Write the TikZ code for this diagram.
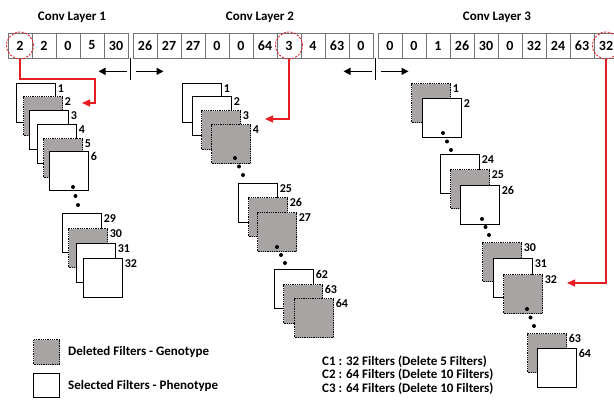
\documentclass[tikz,border=0pt]{standalone}
\usepackage{fontspec}
\setmainfont{Carlito}
\usetikzlibrary{arrows.meta,calc}
\definecolor{delgray}{RGB}{168,164,164}
\definecolor{pickred}{RGB}{232,30,36}
\newcommand{\FiltSize}{39pt}
\newcommand{\CellW}{24}
\tikzset{
  cell/.style={draw=black!55,line width=0.7pt,minimum width=\CellW pt,minimum height=25pt,
    inner sep=0pt,font=\bfseries\fontsize{14}{16}\selectfont},
  pickring/.style={circle,draw=pickred,line width=0.9pt,dash pattern=on 2pt off 1.5pt,
    minimum size=27pt,inner sep=0pt},
  selfilt/.style={draw=black,line width=1.2pt,fill=white,minimum size=\FiltSize,
    inner sep=0pt,anchor=north west},
  delfilt/.style={selfilt,fill=delgray,line width=1.1pt,dash pattern=on 1pt off 0.8pt},
  flab/.style={anchor=north west,inner sep=1.5pt,font=\bfseries\fontsize{12}{14}\selectfont},
  layertitle/.style={font=\bfseries\fontsize{13}{15}\selectfont},
  legtext/.style={anchor=west,inner sep=0pt,font=\bfseries\fontsize{13}{15}\selectfont},
  pickarrow/.style={draw=pickred,line width=1.3pt,-{Triangle[length=8pt,width=7pt]}},
  movearrow/.style={line width=1.3pt,-{Triangle[length=7pt,width=7pt]}},
  divider/.style={line width=1.1pt}
}
\newcommand{\DrawFilter}[5]{%
  \node[#5] (#1) at (#2,#3) {};
  \node[flab] (#1-lab) at (#1.north east) {#4};
}
\newcommand{\DrawDots}[4]{%
  \foreach \k in {0,1,2} {
    \fill (#1+\k*#3,#2+\k*#4) circle (2pt);
  }
}

\begin{document}
\begin{tikzpicture}[x=1pt,y=-1pt]
  \fill[white] (0,0) rectangle (614,403);
  \useasboundingbox (0,0) rectangle (614,403);

  \node[layertitle] (titlea) at (72,17) {Conv Layer 1};
  \node[layertitle] (titleb) at (260,17) {Conv Layer 2};
  \node[layertitle] (titlec) at (497,17) {Conv Layer 3};

  % genotype strip
  \foreach \v [count=\i] in {2,2,0,5,30}
    \node[cell] (ca-\i) at (8+\CellW*\i-\CellW/2,45.5) {\v};
  \foreach \v [count=\i] in {26,27,27,0,0,64,3,4,63,0}
    \node[cell] (cb-\i) at (133+\CellW*\i-\CellW/2,45.5) {\v};
  \foreach \v [count=\i] in {0,0,1,26,30,0,32,24,63,32}
    \node[cell] (cc-\i) at (378+\CellW*\i-\CellW/2,45.5) {\v};

  \coordinate (gapa) at ($(ca-5.south east)!0.5!(cb-1.south west)$);
  \coordinate (gapb) at ($(cb-10.south east)!0.5!(cc-1.south west)$);
  \foreach \g in {gapa,gapb} {
    \draw[divider] (\g) -- ++(0,22);
    \draw[movearrow] ($(\g)+(-4,13)$) -- ++(-28,0);
    \draw[movearrow] ($(\g)+(5,13)$) -- ++(28,0);
  }

  % filter stacks
  \foreach \n/\x/\y/\s in {1/16/83/selfilt,2/23/96/delfilt,3/29/110/selfilt,
      4/37/124/selfilt,5/43/138/delfilt,6/49/151/selfilt,29/62/213/selfilt,
      30/68/228/delfilt,31/76/243/selfilt,32/83/258/selfilt}
    {\DrawFilter{fa-\n}{\x}{\y}{\n}{\s}}
  \DrawDots{73}{187}{2.5}{9}

  \foreach \n/\x/\y/\s in {1/182/83/selfilt,2/192/96/selfilt,3/201/110/delfilt,
      4/211/124/delfilt,25/238/183/selfilt,26/248/197/delfilt,27/257/212/delfilt,
      62/274/269/selfilt,63/283/284/delfilt,64/294/298/delfilt}
    {\DrawFilter{fb-\n}{\x}{\y}{\n}{\s}}
  \DrawDots{235}{158}{4}{8.5}
  \DrawDots{277}{247}{4}{8}

  \foreach \n/\x/\y/\s in {1/411/83/delfilt,2/422/98/selfilt,24/440/154/selfilt,
      25/450/169/delfilt,26/460/185/selfilt,30/482/242/delfilt,31/493/258/selfilt,
      32/503/274/delfilt,63/527/333/delfilt,64/537/348/selfilt}
    {\DrawFilter{fc-\n}{\x}{\y}{\n}{\s}}
  \DrawDots{443}{133}{4}{8.5}
  \DrawDots{482}{219}{3.5}{8}
  \DrawDots{527}{309}{3.5}{8.5}

  % picked genes
  \node[pickring] (ringa) at (ca-1) {};
  \node[pickring] (ringb) at (cb-7) {};
  \node[pickring] (ringc) at (cc-10) {};
  \coordinate (kneea) at (95,79);
  \coordinate (tipa) at (82,103);
  \coordinate (tipb) at (265,119);
  \coordinate (tipc) at (567,283);
  \draw[pickarrow] (ringa.south) |- (kneea) |- (tipa);
  \draw[pickarrow] (ringb.south) |- (tipb);
  \draw[pickarrow] (ringc.south) |- (tipc);

  % legend
  \node[delfilt,minimum width=26pt,minimum height=25pt] (legdel) at (33,339) {};
  \node[legtext] (legdeltxt) at (68,352) {Deleted Filters - Genotype};
  \node[selfilt,minimum width=26pt,minimum height=24pt] (legsel) at (33,373) {};
  \node[legtext] (legseltxt) at (68,386) {Selected Filters - Phenotype};

  \node[legtext] (statc1) at (322,362) {C1 : 32 Filters (Delete 5 Filters)};
  \node[legtext] (statc2) at (322,375) {C2 : 64 Filters (Delete 10 Filters)};
  \node[legtext] (statc3) at (322,389) {C3 : 64 Filters (Delete 10 Filters)};
\end{tikzpicture}
\end{document}
